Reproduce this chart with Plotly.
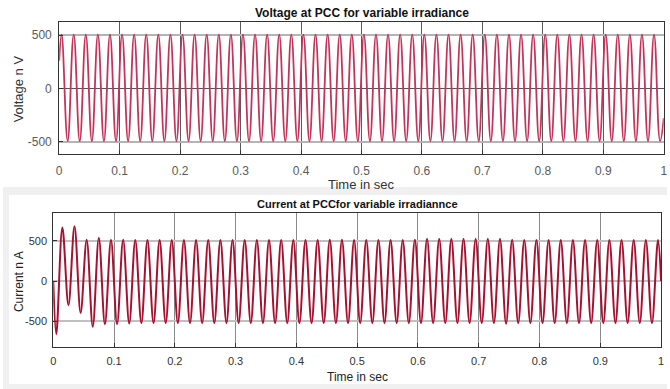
import plotly.graph_objects as go

# ---------------- data ----------------
# Voltage at PCC: start value, then successive extrema (peak / trough), end value
v_time = [0.0,
          0.004, 0.014, 0.024, 0.034, 0.044, 0.054, 0.064, 0.074, 0.084, 0.094,
          0.104, 0.114, 0.124, 0.134, 0.144, 0.154, 0.164, 0.174, 0.184, 0.194,
          0.204, 0.214, 0.224, 0.234, 0.244, 0.254, 0.264, 0.274, 0.284, 0.294,
          0.304, 0.314, 0.324, 0.334, 0.344, 0.354, 0.364, 0.374, 0.384, 0.394,
          0.404, 0.414, 0.424, 0.434, 0.444, 0.454, 0.464, 0.474, 0.484, 0.494,
          0.504, 0.514, 0.524, 0.534, 0.544, 0.554, 0.564, 0.574, 0.584, 0.594,
          0.604, 0.614, 0.624, 0.634, 0.644, 0.654, 0.664, 0.674, 0.684, 0.694,
          0.704, 0.714, 0.724, 0.734, 0.744, 0.754, 0.764, 0.774, 0.784, 0.794,
          0.804, 0.814, 0.824, 0.834, 0.844, 0.854, 0.864, 0.874, 0.884, 0.894,
          0.904, 0.914, 0.924, 0.934, 0.944, 0.954, 0.964, 0.974, 0.984, 0.994,
          1.0]
v_vals = [260,
          505, -495, 505, -495, 505, -495, 505, -495, 505, -495,
          505, -495, 505, -495, 505, -495, 505, -495, 505, -495,
          505, -495, 505, -495, 505, -495, 505, -495, 505, -495,
          505, -495, 505, -495, 505, -495, 505, -495, 505, -495,
          505, -495, 505, -495, 505, -495, 505, -495, 505, -495,
          505, -495, 505, -495, 505, -495, 505, -495, 505, -495,
          505, -495, 505, -495, 505, -495, 505, -495, 505, -495,
          505, -495, 505, -495, 505, -495, 505, -495, 505, -495,
          505, -495, 505, -495, 505, -495, 505, -495, 505, -495,
          505, -495, 505, -495, 505, -495, 505, -495, 505, -495,
          -280]

# Current at PCC: start value, successive extrema, end value
i_time = [0.0,
          0.005, 0.015, 0.025, 0.035, 0.045, 0.055, 0.065, 0.075, 0.085, 0.095,
          0.105, 0.115, 0.125, 0.135, 0.145, 0.155, 0.165, 0.175, 0.185, 0.195,
          0.205, 0.215, 0.225, 0.235, 0.245, 0.255, 0.265, 0.275, 0.285, 0.295,
          0.305, 0.315, 0.325, 0.335, 0.345, 0.355, 0.365, 0.375, 0.385, 0.395,
          0.405, 0.415, 0.425, 0.435, 0.445, 0.455, 0.465, 0.475, 0.485, 0.495,
          0.505, 0.515, 0.525, 0.535, 0.545, 0.555, 0.565, 0.575, 0.585, 0.595,
          0.605, 0.615, 0.625, 0.635, 0.645, 0.655, 0.665, 0.675, 0.685, 0.695,
          0.705, 0.715, 0.725, 0.735, 0.745, 0.755, 0.765, 0.775, 0.785, 0.795,
          0.805, 0.815, 0.825, 0.835, 0.845, 0.855, 0.865, 0.875, 0.885, 0.895,
          0.905, 0.915, 0.925, 0.935, 0.945, 0.955, 0.965, 0.975, 0.985, 0.995,
          1.0]
i_vals = [0,
          -662, 670, -302, 685, -400, 515, -571, 540, -540, 515,
          -540, 515, -530, 512, -528, 512, -528, 512, -528, 512,
          -528, 512, -528, 512, -528, 512, -528, 512, -528, 512,
          -528, 512, -528, 512, -528, 512, -528, 512, -528, 512,
          -528, 512, -528, 512, -528, 515, -528, 515, -528, 512,
          -528, 512, -528, 512, -528, 512, -528, 512, -528, 515,
          -528, 528, -528, 528, -528, 528, -528, 528, -528, 528,
          -528, 528, -528, 528, -535, 515, -528, 512, -528, 512,
          -528, 512, -528, 512, -528, 512, -528, 512, -528, 512,
          -528, 512, -528, 512, -528, 512, -528, 512, -528, 512,
          0]

x_tickvals = [0, 0.1, 0.2, 0.3, 0.4, 0.5, 0.6, 0.7, 0.8, 0.9, 1.0]
x_ticktext = ["0", "0.1", "0.2", "0.3", "0.4", "0.5", "0.6", "0.7", "0.8", "0.9", "1"]
y_tickvals = [-500, 0, 500]
y_ticktext = ["-500", "0", "500"]

# ---------------- figure ----------------
W, H = 670, 389
def px(x):
    return x / W
def py(y):
    return 1 - y / H

FONT = "Liberation Sans, Arial, Helvetica, sans-serif"

fig = go.Figure()
fig.add_trace(go.Scatter(x=v_time, y=v_vals, mode="lines",
                         line=dict(color="#C4345A", width=1.8, shape="spline", smoothing=1.2),
                         xaxis="x", yaxis="y", showlegend=False, hoverinfo="skip"))
fig.add_trace(go.Scatter(x=i_time, y=i_vals, mode="lines",
                         line=dict(color="#A8102F", width=2, shape="spline", smoothing=1),
                         xaxis="x2", yaxis="y2", showlegend=False, hoverinfo="skip"))

common_x = dict(range=[0, 1], tickvals=x_tickvals, ticktext=x_ticktext,
                showline=True, mirror=True, linecolor="#333333", linewidth=1,
                ticks="inside", ticklen=4, tickcolor="#333333",
                zeroline=False, showgrid=True, fixedrange=True)
common_y = dict(tickvals=y_tickvals, ticktext=y_ticktext,
                showline=True, mirror=True, linecolor="#333333", linewidth=1,
                ticks="inside", ticklen=4, tickcolor="#333333",
                showgrid=True, fixedrange=True)

fig.update_layout(
    width=W, height=H,
    margin=dict(l=0, r=0, t=0, b=0),
    paper_bgcolor="white", plot_bgcolor="white",
    xaxis=dict(domain=[px(56.7), px(666.7)], anchor="y",
               gridcolor="#5a5a5a", gridwidth=1,
               tickfont=dict(family=FONT, size=12, color="#5a5a5a"),
               ticklabelstandoff=5, **common_x),
    yaxis=dict(domain=[py(154.3), py(22.3)], anchor="x", range=[-620, 620],
               gridcolor="#b4b4b4", gridwidth=1.5,
               zeroline=True, zerolinecolor="#555555", zerolinewidth=1,
               tickfont=dict(family=FONT, size=12, color="#5a5a5a"),
               ticklabelstandoff=4, **common_y),
    xaxis2=dict(domain=[px(50.7), px(664)], anchor="y2",
                gridcolor="#8a8a8a", gridwidth=1.2,
                tickfont=dict(family=FONT, size=11, color="#333333"),
                ticklabelstandoff=4, **common_x),
    yaxis2=dict(domain=[py(346.7), py(213.3)], anchor="x2", range=[-821, 846],
                gridcolor="#c0c0c0", gridwidth=2,
                zeroline=True, zerolinecolor="#c0c0c0", zerolinewidth=2,
                tickfont=dict(family=FONT, size=11, color="#333333"),
                ticklabelstandoff=3, **common_y),
    shapes=[
        dict(type="rect", xref="paper", yref="paper", x0=0, x1=1, y0=py(195), y1=py(187),
             fillcolor="#F0F0F0", line=dict(width=0), layer="below"),
        dict(type="rect", xref="paper", yref="paper", x0=0, x1=1, y0=0, y1=py(384),
             fillcolor="#F0F0F0", line=dict(width=0), layer="below"),
        dict(type="rect", xref="paper", yref="paper", x0=0, x1=px(6), y0=py(384), y1=py(195),
             fillcolor="#F0F0F0", line=dict(width=0), layer="below"),
    ],
    annotations=[
        dict(text="<b>Voltage at PCC for variable irradiance</b>", x=px(362.5), y=py(13),
             xref="paper", yref="paper", showarrow=False, xanchor="center", yanchor="middle",
             font=dict(family=FONT, size=12, color="#111111")),
        dict(text="Time in sec", x=px(361.7), y=py(184.5),
             xref="paper", yref="paper", showarrow=False, xanchor="center", yanchor="middle",
             font=dict(family=FONT, size=13, color="#333333")),
        dict(text="Voltage n V", x=px(15.5), y=py(89),
             xref="paper", yref="paper", showarrow=False, textangle=-90,
             xanchor="center", yanchor="middle",
             font=dict(family=FONT, size=13, color="#333333")),
        dict(text="<b>Current at PCCfor variable irradiannce</b>", x=px(357.5), y=py(204.3),
             xref="paper", yref="paper", showarrow=False, xanchor="center", yanchor="middle",
             font=dict(family=FONT, size=11, color="#111111")),
        dict(text="Time in sec", x=px(357.5), y=py(377.3),
             xref="paper", yref="paper", showarrow=False, xanchor="center", yanchor="middle",
             font=dict(family=FONT, size=12, color="#222222")),
        dict(text="Current n A", x=px(15.5), y=py(281.7),
             xref="paper", yref="paper", showarrow=False, textangle=-90,
             xanchor="center", yanchor="middle",
             font=dict(family=FONT, size=12, color="#222222")),
    ],
)

fig.write_html("out.html",
               config={"displayModeBar": False},
               post_script="document.body.style.margin='0px';document.body.style.padding='0px';")
